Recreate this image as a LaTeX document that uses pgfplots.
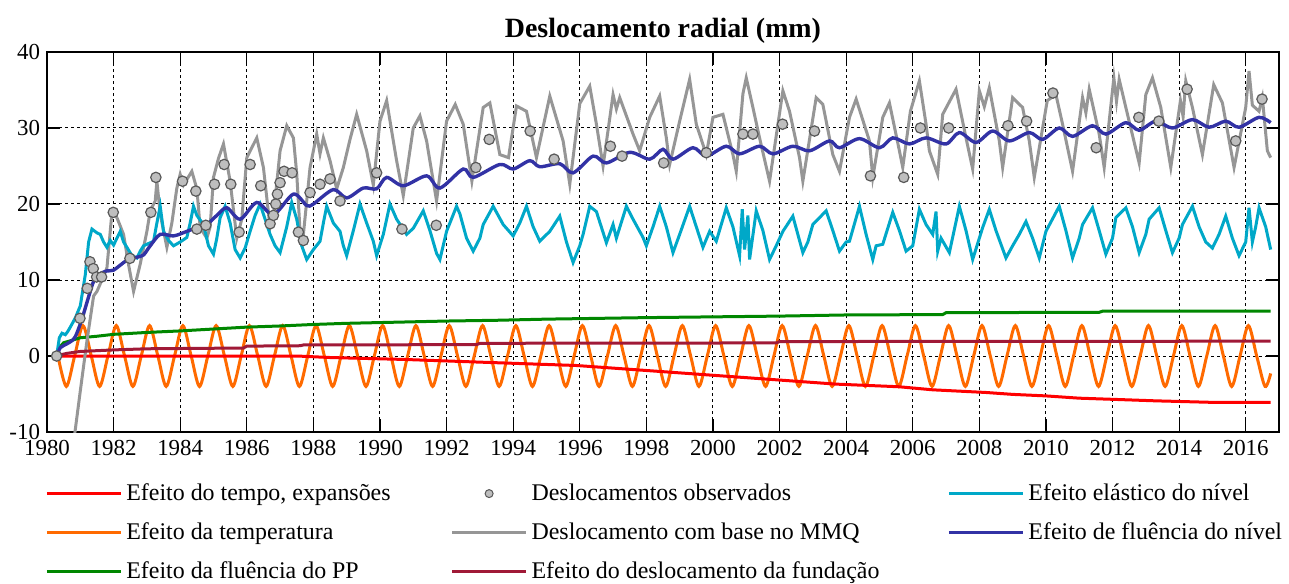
\documentclass[border=0pt]{standalone}
\usepackage{fontspec}
\setmainfont{Liberation Serif}
\usepackage{pgfplots}
\pgfplotsset{compat=1.18}
\definecolor{cRed}{RGB}{255,0,0}
\definecolor{cOrange}{RGB}{255,106,0}
\definecolor{cGreen}{RGB}{0,135,0}
\definecolor{cMaroon}{RGB}{160,25,55}
\definecolor{cGray}{RGB}{150,150,150}
\definecolor{cDot}{RGB}{190,190,190}
\definecolor{cCyan}{RGB}{0,168,200}
\definecolor{cBlue}{RGB}{50,50,165}
\begin{document}
\begin{tikzpicture}
\begin{axis}[name=ax, scale only axis, width=616bp, height=190bp,
  xmin=1980, xmax=2017, ymin=-10, ymax=40,
  xtick={1980,1982,...,2016}, ytick={-10,0,...,40},
  /pgf/number format/1000 sep={},
  /pgf/number format/assume math mode=true,
  tick label style={font=\fontsize{11.5}{13}\selectfont},
  xticklabel style={yshift=-0.5bp},
  tick align=inside, tick pos=both, major tick length=6.5bp,
  grid=major,
  major grid style={black, line width=0.5bp, dash pattern=on 1.5bp off 1.5bp},
  axis line style={line width=0.7bp}, tick style={black, line width=0.6bp},
  title={Deslocamento radial (mm)},
  title style={font=\bfseries\fontsize{14}{16}\selectfont, yshift=-5bp},
  legend columns=3, legend cell align=left,
  legend style={at={(-0.0065,-0.114)}, anchor=north west, draw=none, fill=none,
    font=\fontsize{12}{14}\selectfont, row sep=5.5bp,
    /tikz/column 2/.style={column sep=28bp},
    /tikz/column 4/.style={column sep=32bp}},
  legend image code/.code={\draw[mark repeat=2,mark phase=2,#1] plot coordinates {(0bp,0bp) (18.5bp,0bp) (37bp,0bp)};},
  every axis plot/.append style={line width=1.5bp},
]
% temperatura
\addplot[cOrange, smooth, forget plot] coordinates {
(1980.33,0) (1980.58,-4) (1980.83,0)
(1981.08,4) (1981.33,0) (1981.58,-4) (1981.83,0)
(1982.08,4) (1982.33,0) (1982.58,-4) (1982.83,0)
(1983.08,4) (1983.33,0) (1983.58,-4) (1983.83,0)
(1984.08,4) (1984.33,0) (1984.58,-4) (1984.83,0)
(1985.08,4) (1985.33,0) (1985.58,-4) (1985.83,0)
(1986.08,4) (1986.33,0) (1986.58,-4) (1986.83,0)
(1987.08,4) (1987.33,0) (1987.58,-4) (1987.83,0)
(1988.08,4) (1988.33,0) (1988.58,-4) (1988.83,0)
(1989.08,4) (1989.33,0) (1989.58,-4) (1989.83,0)
(1990.08,4) (1990.33,0) (1990.58,-4) (1990.83,0)
(1991.08,4) (1991.33,0) (1991.58,-4) (1991.83,0)
(1992.08,4) (1992.33,0) (1992.58,-4) (1992.83,0)
(1993.08,4) (1993.33,0) (1993.58,-4) (1993.83,0)
(1994.08,4) (1994.33,0) (1994.58,-4) (1994.83,0)
(1995.08,4) (1995.33,0) (1995.58,-4) (1995.83,0)
(1996.08,4) (1996.33,0) (1996.58,-4) (1996.83,0)
(1997.08,4) (1997.33,0) (1997.58,-4) (1997.83,0)
(1998.08,4) (1998.33,0) (1998.58,-4) (1998.83,0)
(1999.08,4) (1999.33,0) (1999.58,-4) (1999.83,0)
(2000.08,4) (2000.33,0) (2000.58,-4) (2000.83,0)
(2001.08,4) (2001.33,0) (2001.58,-4) (2001.83,0)
(2002.08,4) (2002.33,0) (2002.58,-4) (2002.83,0)
(2003.08,4) (2003.33,0) (2003.58,-4) (2003.83,0)
(2004.08,4) (2004.33,0) (2004.58,-4) (2004.83,0)
(2005.08,4) (2005.33,0) (2005.58,-4) (2005.83,0)
(2006.08,4) (2006.33,0) (2006.58,-4) (2006.83,0)
(2007.08,4) (2007.33,0) (2007.58,-4) (2007.83,0)
(2008.08,4) (2008.33,0) (2008.58,-4) (2008.83,0)
(2009.08,4) (2009.33,0) (2009.58,-4) (2009.83,0)
(2010.08,4) (2010.33,0) (2010.58,-4) (2010.83,0)
(2011.08,4) (2011.33,0) (2011.58,-4) (2011.83,0)
(2012.08,4) (2012.33,0) (2012.58,-4) (2012.83,0)
(2013.08,4) (2013.33,0) (2013.58,-4) (2013.83,0)
(2014.08,4) (2014.33,0) (2014.58,-4) (2014.83,0)
(2015.08,4) (2015.33,0) (2015.58,-4) (2015.83,0)
(2016.08,4) (2016.33,0) (2016.58,-4) (2016.75,-2.3)};
% tempo
\addplot[cRed, forget plot] coordinates {
(1980.3,0) (1987.5,0) (1988.5,-0.2) (1990.7,-0.45) (1993.6,-0.9) (1995.9,-1.25)
(1998.3,-2.0) (2001,-2.85) (2003.7,-3.7) (2005.6,-4.05) (2006.6,-4.45) (2008.2,-4.8)
(2009,-5.05) (2010,-5.25) (2011,-5.55) (2012,-5.7) (2013.3,-5.9) (2015,-6.1) (2016.75,-6.1)};
% fluencia PP
\addplot[cGreen, forget plot] coordinates {
(1980.3,0) (1980.35,1.0) (1980.5,1.75) (1980.7,2.0) (1981,2.4) (1981.5,2.6) (1982,2.85)
(1983,3.1) (1984,3.3) (1985,3.55) (1986,3.8) (1987,3.95) (1988,4.15) (1989,4.3)
(1990,4.4) (1991,4.5) (1992,4.6) (1993.5,4.7) (1995,4.85) (1996.5,4.95) (1998,5.05)
(2000,5.15) (2002,5.25) (2004,5.4) (2006.9,5.45) (2007.0,5.7) (2011.6,5.75)
(2011.7,5.9) (2016.75,5.9)};
% MMQ
\addplot[cGray, forget plot] coordinates {
(1980.75,-15) (1980.84,-10) (1981.0,-4.6) (1981.2,2.0) (1981.4,7.9) (1981.5,8.5)
(1981.6,9.5) (1981.8,11.6) (1981.95,18.9) (1982.1,18.2) (1982.3,16.0) (1982.45,12.0)
(1982.6,8.5) (1982.8,12.1) (1983.0,16.4) (1983.1,19.1) (1983.25,20.4) (1983.3,23.0)
(1983.4,18.7) (1983.6,14.3) (1983.75,17.5) (1983.9,22.1) (1984.0,23.9) (1984.1,22.5)
(1984.35,24.3) (1984.5,22.0) (1984.6,16.9) (1984.8,15.5) (1984.9,17.0) (1985.0,23.5)
(1985.15,26.0) (1985.3,27.9) (1985.5,23.0) (1985.7,15.5) (1985.85,18.0) (1986.0,26.1)
(1986.3,28.7) (1986.5,24.8) (1986.7,16.9) (1986.8,18.5) (1987.0,27.0) (1987.2,30.3)
(1987.4,28.7) (1987.5,24.0) (1987.6,16.4) (1987.7,16.0) (1987.9,24.8) (1988.0,27.0)
(1988.1,29.2) (1988.2,26.6) (1988.3,28.7) (1988.5,25.7) (1988.7,22.0) (1988.9,24.8)
(1989.1,28.5) (1989.3,31.8) (1989.6,27.0) (1989.8,22.5) (1990.0,30.9) (1990.2,33.6)
(1990.5,25.7) (1990.7,21.1) (1991.0,30.0) (1991.2,31.6) (1991.4,28.3) (1991.7,20.4)
(1992.0,30.9) (1992.26,33.1) (1992.5,30.5) (1992.76,23.0) (1993.1,32.7) (1993.3,33.3)
(1993.6,26.5) (1993.86,26.1) (1994.1,32.9) (1994.4,32.2) (1994.7,26.1) (1995.1,34.2)
(1995.5,28.3) (1995.7,22.6) (1996.0,33.2) (1996.3,35.5) (1996.5,30.5) (1996.7,25.0)
(1997.0,34.4) (1997.1,32.5) (1997.2,34.0) (1997.6,29.2) (1997.8,27.0) (1998.1,31.4) (1998.4,34.2)
(1998.6,28.7) (1998.7,25.2) (1999.0,30.9) (1999.3,36.4) (1999.5,30.5) (1999.8,26.5)
(2000.0,31.4) (2000.3,31.8) (2000.6,26.5) (2000.7,24.3) (2000.9,34.5) (2001.0,36.6)
(2001.2,32.7) (2001.4,28.7) (2001.7,23.0) (2002.1,34.9) (2002.3,32.2) (2002.6,26.1)
(2002.7,23.0) (2003.1,34.0) (2003.3,33.1) (2003.6,26.5) (2003.8,24.3) (2004.1,31.4)
(2004.3,33.8) (2004.7,28.3) (2004.8,23.5) (2005.1,31.4) (2005.3,33.3) (2005.6,27.0)
(2005.7,24.8) (2005.93,32.2) (2006.2,36.2) (2006.4,30.5) (2006.5,27.0) (2006.75,23.9)
(2006.9,31.8) (2007.3,35.1) (2007.6,28.7) (2007.8,24.6) (2008.0,34.9) (2008.15,32.8) (2008.3,35.3)
(2008.6,28.3) (2008.7,24.8) (2009.0,34.0) (2009.3,32.7) (2009.5,28.3) (2009.65,23.5)
(2010.04,33.6) (2010.3,34.4) (2010.5,30.5) (2010.8,24.3) (2011.1,34.0) (2011.2,32.0) (2011.3,35.1)
(2011.6,29.2) (2011.75,24.8) (2012.04,36.6) (2012.12,33.5) (2012.2,36.4) (2012.4,32.7) (2012.8,25.4)
(2013.0,34.4) (2013.2,36.6) (2013.45,32.7) (2013.75,24.8) (2014.04,33.6) (2014.12,31.5) (2014.2,36.2)
(2014.4,32.7) (2014.7,26.5) (2015.04,35.7) (2015.3,33.3) (2015.65,24.8) (2016.0,32.7)
(2016.1,37.5) (2016.2,33.0) (2016.4,32.2) (2016.5,34.0) (2016.65,27.0) (2016.75,26.1)};
% fundacao
\addplot[cMaroon, forget plot] coordinates {
(1980.3,0) (1980.4,0.15) (1980.6,0.35) (1981,0.6) (1981.5,0.7) (1982,0.8) (1983,0.95)
(1985.9,1.05) (1986.0,1.3) (1987.6,1.35) (1987.7,1.45) (1992.9,1.5) (1993.0,1.67)
(2001.9,1.72) (2002.0,1.9) (2016.75,1.95)};
% elastico do nivel
\addplot[cCyan, forget plot] coordinates {
(1980.29,0) (1980.37,2.4) (1980.45,3.0) (1980.55,2.8) (1980.62,3.2) (1980.7,3.8)
(1980.85,5.0) (1981.0,6.6) (1981.15,10.7) (1981.25,15.0) (1981.35,16.7) (1981.5,16.2)
(1981.6,16.0) (1981.7,15.0) (1981.8,14.3) (1981.9,15.2) (1982.0,14.6) (1982.1,15.5)
(1982.2,16.4) (1982.3,15.0) (1982.4,14.3) (1982.55,13.2) (1982.7,12.9) (1982.8,13.8)
(1982.9,14.5) (1983.05,14.8) (1983.2,15.1) (1983.3,17.5) (1983.4,19.7) (1983.5,16.4)
(1983.65,15.2) (1983.8,14.5) (1984.0,15.0) (1984.2,15.6) (1984.3,17.5) (1984.4,19.7)
(1984.5,18.5) (1984.7,17.3) (1984.85,14.5) (1985.0,13.4) (1985.1,15.5) (1985.2,18.2)
(1985.35,19.7) (1985.5,17.5) (1985.65,14.0) (1985.8,12.9) (1985.95,14.2) (1986.1,16.4)
(1986.25,18.5) (1986.4,20.0) (1986.55,18.0) (1986.7,16.0) (1986.85,14.5) (1987.0,13.6)
(1987.2,17.0) (1987.35,20.2) (1987.5,18.0) (1987.65,14.5) (1987.8,12.7) (1988.0,14.0)
(1988.2,15.1) (1988.3,17.5) (1988.4,19.7) (1988.6,17.5) (1988.8,16.4) (1988.9,14.5)
(1989.0,13.2) (1989.2,16.5) (1989.4,20.0) (1989.6,17.5) (1989.8,15.1) (1989.9,13.2)
(1990.1,16.0) (1990.3,20.0) (1990.5,18.0) (1990.8,16.0) (1991.0,16.8) (1991.3,19.1)
(1991.5,16.5) (1991.7,13.5) (1991.8,12.7) (1992.0,16.4) (1992.3,19.7) (1992.4,18.7)
(1992.6,15.5) (1992.8,13.8) (1993.0,15.5) (1993.1,17.3) (1993.4,19.7) (1993.7,17.3)
(1994.0,15.8) (1994.2,17.5) (1994.4,19.7) (1994.6,17.0) (1994.8,15.1) (1995.1,16.4)
(1995.4,18.4) (1995.6,15.0) (1995.8,12.3) (1996.0,14.5) (1996.1,16.0) (1996.3,19.7)
(1996.5,19.0) (1996.8,14.9) (1997.0,17.3) (1997.1,15.5) (1997.4,19.7) (1997.6,18.0)
(1997.9,15.6) (1998.0,14.5) (1998.2,17.0) (1998.4,19.7) (1998.6,17.0) (1998.8,13.6)
(1999.0,16.0) (1999.3,19.7) (1999.5,17.0) (1999.7,14.3) (1999.9,16.4) (2000.1,15.1)
(2000.4,19.5) (2000.6,17.0) (2000.8,13.2) (2000.88,19.3) (2000.95,14.0) (2001.05,18.5)
(2001.1,12.7) (2001.3,19.1) (2001.5,16.5) (2001.7,12.7) (2001.9,14.5) (2002.1,16.4)
(2002.4,18.4) (2002.55,16.0) (2002.7,13.6) (2002.85,15.0) (2003.0,17.3) (2003.4,19.1)
(2003.6,16.5) (2003.8,13.8) (2004.0,15.0) (2004.1,15.1) (2004.4,19.7) (2004.6,16.0)
(2004.8,12.7) (2004.9,14.5) (2005.1,14.7) (2005.4,18.9) (2005.6,16.5) (2005.8,13.8)
(2006.0,14.5) (2006.2,19.3) (2006.4,17.3) (2006.6,16.0) (2006.7,19.0) (2006.75,13.8)
(2006.85,15.5) (2007.1,13.6) (2007.4,19.7) (2007.6,16.5) (2007.8,12.7) (2008.1,16.9)
(2008.3,19.3) (2008.5,16.5) (2008.8,12.9) (2009.0,14.5) (2009.2,16.0) (2009.4,17.7)
(2009.6,15.5) (2009.8,12.9) (2010.0,16.4) (2010.4,19.7) (2010.6,16.5) (2010.8,12.9)
(2011.0,15.5) (2011.1,17.3) (2011.4,19.5) (2011.6,16.5) (2011.8,13.4) (2012.0,15.5)
(2012.1,18.2) (2012.4,19.5) (2012.6,17.0) (2012.8,13.6) (2013.0,16.0) (2013.1,18.0)
(2013.4,19.5) (2013.6,16.5) (2013.8,13.6) (2014.0,15.5) (2014.1,17.3) (2014.4,19.7)
(2014.6,17.0) (2014.8,15.0) (2015.0,14.2) (2015.2,16.0) (2015.4,18.4) (2015.6,15.5)
(2015.8,13.2) (2016.0,15.0) (2016.1,19.5) (2016.2,15.0) (2016.3,17.0) (2016.4,19.5)
(2016.6,17.0) (2016.75,14.0)};
% fluencia do nivel
\addplot[cBlue, smooth, line width=1.7bp, forget plot] coordinates {
(1980.3,0) (1980.4,1.1) (1980.6,1.6) (1980.83,2.4) (1981.03,4.6) (1981.23,7.5)
(1981.38,9.6) (1981.5,10.6) (1981.8,11.2) (1982.0,11.3) (1982.4,12.6) (1982.7,13.0)
(1982.9,13.3) (1983.1,14.5) (1983.4,16.0) (1983.8,15.8) (1984.2,16.4) (1984.5,16.9)
(1984.8,17.3) (1985.1,18.5) (1985.4,19.5) (1985.8,18.0) (1986.3,20.2) (1986.8,18.6)
(1987.4,21.3) (1987.8,19.8) (1988.0,20.0) (1988.6,21.9) (1989.0,20.8) (1989.5,22.1)
(1989.9,22.0) (1990.2,23.5) (1990.7,22.4) (1991.4,23.7) (1991.8,22.1) (1992.5,24.6)
(1992.8,23.5) (1993.6,25.2) (1994.0,24.6) (1994.5,25.7) (1994.8,24.9) (1995.4,25.3)
(1995.8,24.1) (1996.4,26.3) (1996.8,25.4) (1997.5,26.8) (1998.1,25.9) (1998.5,27.2)
(1998.8,25.9) (1999.4,27.4) (1999.8,26.3) (2000.4,27.6) (2000.8,26.6) (2001.4,27.6)
(2001.8,26.6) (2002.4,27.6) (2002.9,27.0) (2003.5,28.3) (2003.8,27.4) (2004.4,28.6)
(2005.0,27.4) (2005.4,28.7) (2005.9,27.9) (2006.4,28.7) (2007.0,27.9) (2007.4,29.4)
(2007.9,28.1) (2008.4,29.6) (2008.9,28.3) (2009.5,29.4) (2009.9,28.5) (2010.4,30.0)
(2010.8,28.9) (2011.4,30.3) (2011.8,29.2) (2012.4,30.7) (2012.8,29.7) (2013.3,30.9)
(2013.8,30.0) (2014.4,31.1) (2014.9,30.1) (2015.4,30.9) (2015.8,30.1) (2016.4,31.4)
(2016.75,30.7)};
% observados
\addplot[only marks, mark=*, mark size=2.6bp, mark options={fill=cDot, draw=black!65, line width=0.6bp}, forget plot] coordinates {
(1980.29,0) (1980.99,4.96) (1981.21,8.9) (1981.29,12.4) (1981.39,11.5) (1981.49,10.4)
(1981.64,10.4) (1981.99,18.9) (1982.49,12.85) (1983.12,18.9) (1983.27,23.5)
(1984.07,23.0) (1984.47,21.7) (1984.5,16.7) (1984.77,17.2) (1985.03,22.6)
(1985.32,25.2) (1985.52,22.6) (1985.77,16.3) (1986.1,25.2) (1986.42,22.4)
(1986.7,17.4) (1986.8,18.5) (1986.87,20.0) (1986.92,21.3) (1987.0,22.8)
(1987.12,24.3) (1987.36,24.1) (1987.55,16.3) (1987.7,15.2) (1987.9,21.5)
(1988.2,22.6) (1988.5,23.3) (1988.8,20.4) (1989.9,24.1) (1990.66,16.7)
(1991.69,17.2) (1992.88,24.8) (1993.28,28.5) (1994.51,29.6) (1995.23,25.9)
(1996.92,27.6) (1997.27,26.3) (1998.52,25.4) (1999.8,26.75) (2000.9,29.2)
(2001.2,29.2) (2002.09,30.5) (2003.05,29.6) (2004.73,23.7) (2005.73,23.5)
(2006.23,30.0) (2007.08,30.0) (2008.86,30.3) (2009.42,30.9) (2010.21,34.6)
(2011.51,27.4) (2012.79,31.4) (2013.39,30.9) (2014.24,35.1) (2015.7,28.3)
(2016.49,33.8)};
% legend, row by row
\addlegendimage{cRed, line width=1.5bp}
\addlegendentry{Efeito do tempo, expansões}
\addlegendimage{only marks, mark=*, mark size=2bp, mark options={fill=cDot, draw=black!65, line width=0.5bp}}
\addlegendentry{Deslocamentos observados}
\addlegendimage{cCyan, line width=1.5bp}
\addlegendentry{Efeito elástico do nível}
\addlegendimage{cOrange, line width=1.5bp}
\addlegendentry{Efeito da temperatura}
\addlegendimage{cGray, line width=1.5bp}
\addlegendentry{Deslocamento com base no MMQ}
\addlegendimage{cBlue, line width=1.5bp}
\addlegendentry{Efeito de fluência do nível}
\addlegendimage{cGreen, line width=1.5bp}
\addlegendentry{Efeito da fluência do PP}
\addlegendimage{cMaroon, line width=1.5bp}
\addlegendentry{Efeito do deslocamento da fundação}
\end{axis}
\pgfresetboundingbox
\path (ax.south west) ++(-23.5bp,-76bp) rectangle ++(644.5bp,292bp);
\end{tikzpicture}
\end{document}
